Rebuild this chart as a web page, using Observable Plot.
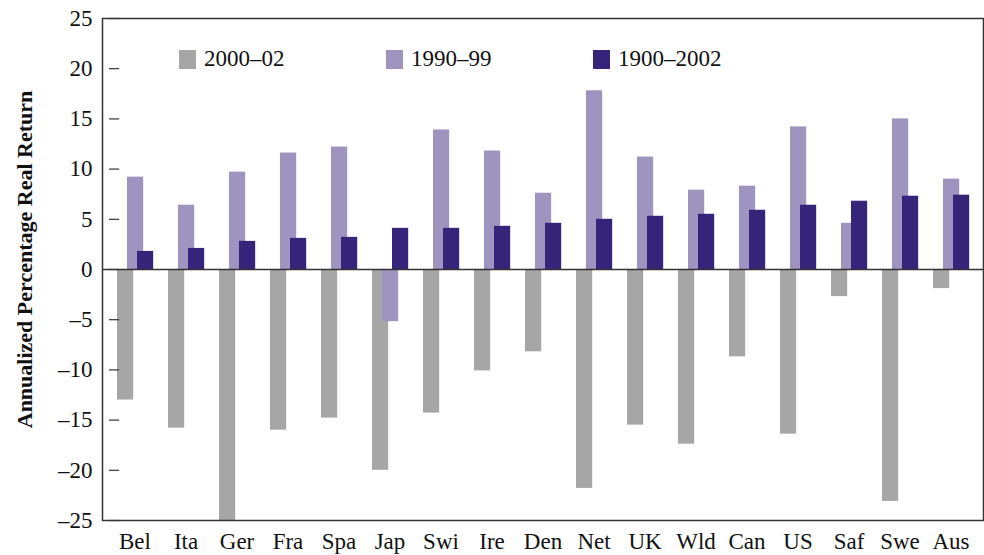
<!DOCTYPE html>
<html>
<head>
<meta charset="utf-8">
<script src="https://cdn.jsdelivr.net/npm/d3@7"></script>
<script src="https://cdn.jsdelivr.net/npm/@observablehq/plot@0.6"></script>
<style>
  html, body { margin: 0; padding: 0; background: #fff; }
  #wrap { position: relative; width: 984px; height: 555px; font-family: "Liberation Serif", "DejaVu Serif", serif; }
  #legend { position: absolute; top: 46px; left: 179px; display: flex; font-size: 23px; color: #111; }
  .item { width: 207px; display: flex; align-items: center; }
  .sw { width: 17px; height: 19px; margin-right: 8px; flex: none; }
</style>
</head>
<body>
<div id="wrap">
  <div id="chart"></div>
  <div id="legend"></div>
</div>
<script>
const categories = ["Bel","Ita","Ger","Fra","Spa","Jap","Swi","Ire","Den","Net","UK","Wld","Can","US","Saf","Swe","Aus"];
const series = ["2000–02", "1990–99", "1900–2002"];
const colors = ["#a6a6a6", "#9f93bf", "#36237a"];
const values2000_02 = [-13.0,-15.8,-25.0,-16.0,-14.8,-20.0,-14.3,-10.1,-8.2,-21.8,-15.5,-17.4,-8.7,-16.4,-2.7,-23.1,-1.9];
const values1990_99 = [9.2,6.4,9.7,11.6,12.2,-5.2,13.9,11.8,7.6,17.8,11.2,7.9,8.3,14.2,4.6,15.0,9.0];
const values1900_2002 = [1.8,2.1,2.8,3.1,3.2,4.1,4.1,4.3,4.6,5.0,5.3,5.5,5.9,6.4,6.8,7.3,7.4];
const yTicks = [-25,-20,-15,-10,-5,0,5,10,15,20,25];

const allSeries = [values2000_02, values1990_99, values1900_2002];
const data = [];
allSeries.forEach((vals, s) => vals.forEach((v, i) => data.push({cat: categories[i], series: series[s], s, value: v})));

const W = 984, H = 555, mL = 102, mR = 1, mT = 18, mB = 35;
const bw = (W - mL - mR) / categories.length;
const barW = 17, starts = [8, 18, 28];

const barMarks = [0,1,2].map(s => Plot.barY(data.filter(d => d.s === s), {
  x: "cat", y: "value", fill: colors[s],
  insetLeft: starts[s], insetRight: bw - starts[s] - barW
}));

const fmt = d => d < 0 ? "–" + Math.abs(d) : String(d);

const chart = Plot.plot({
  width: W, height: H,
  marginLeft: mL, marginRight: mR, marginTop: mT, marginBottom: mB,
  style: { fontFamily: '"Liberation Serif", "DejaVu Serif", serif', fontSize: "23px", color: "#111", background: "#fff" },
  x: { domain: categories, padding: 0, axis: null },
  y: { domain: [-25, 25], axis: null },
  marks: [
    ...barMarks,
    Plot.ruleY([0], { stroke: "#333", strokeWidth: 1.5 }),
    Plot.tickY(yTicks, { x: () => categories[0], y: d => d, stroke: "#333", strokeWidth: 1.2, insetRight: bw - 11 }),
    Plot.axisY(yTicks, { tickSize: 0, tickPadding: 10, tickFormat: fmt, fontSize: 23, fill: "#111", label: null }),
    Plot.axisX({ tickSize: 0, tickPadding: 12, fontSize: 23, fill: "#111", label: null }),
    Plot.frame({ stroke: "#333", strokeWidth: 1.5 }),
    Plot.text(["Annualized Percentage Real Return"], {
      frameAnchor: "left", textAnchor: "middle", dx: -78, dy: -10, rotate: -90, fontWeight: "bold", fontSize: 22, fill: "#111"
    })
  ]
});
document.getElementById("chart").appendChild(chart);

const legend = document.getElementById("legend");
series.forEach((name, s) => {
  const item = document.createElement("div");
  item.className = "item";
  const sw = document.createElement("div");
  sw.className = "sw";
  sw.style.background = colors[s];
  const t = document.createElement("span");
  t.textContent = name;
  item.appendChild(sw); item.appendChild(t);
  legend.appendChild(item);
});
</script>
</body>
</html>
